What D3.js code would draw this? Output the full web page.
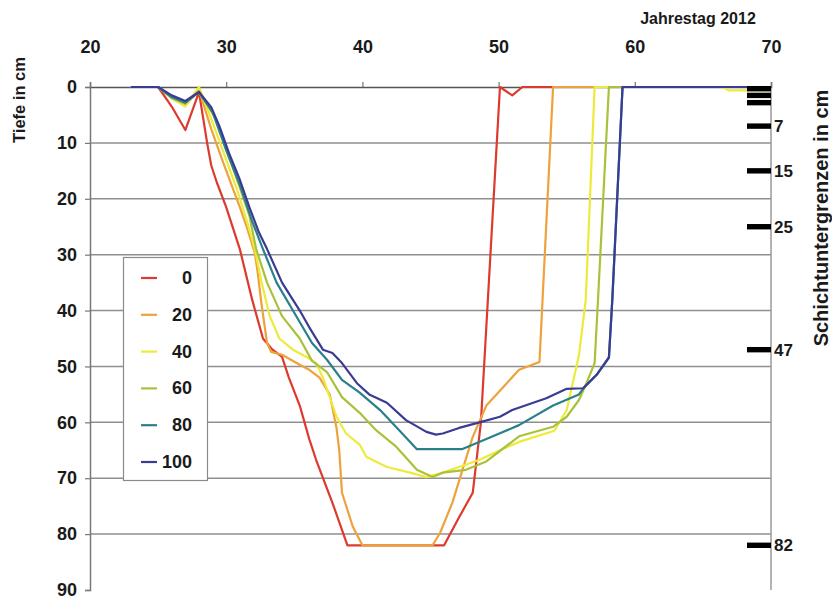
<!DOCTYPE html>
<html>
<head>
<meta charset="utf-8">
<script src="https://cdn.jsdelivr.net/npm/d3@7"></script>
<style>
  body { margin: 0; background: #fff; }
  svg { display: block; }
  text { font-family: "Liberation Sans", Arial, sans-serif; font-weight: bold; fill: #1a1a1a; }
</style>
</head>
<body>
<svg id="chart" width="832" height="598"></svg>
<script>
// Frost penetration depth (cm) per day of year 2012, one series per legend entry
const seriesNames = ["0", "20", "40", "60", "80", "100"];
const seriesColors = ["#dd3a2e", "#eea23c", "#eeea3a", "#a9c23a", "#2a8088", "#3b3b94"];

const depth0 = [[23,0],[25,0],[26,3.5],[27,7.7],[28,0.9],[28.6,10],[28.9,14],[29.3,17],[30,21.5],[31,29],[31.9,38],[32.7,45],[33.4,47],[34.1,48.3],[34.6,52],[35.4,57],[36.1,63],[36.6,66.7],[37.8,74.4],[38.9,82],[46,82],[47.1,77],[48.1,72.6],[48.7,60],[50.1,0],[51,1.5],[51.75,0],[70,0]];
const depth20 = [[23,0],[25,0],[26,2],[27,3.3],[28,0.5],[28.9,7.5],[29.7,13],[31,21.5],[31.5,25],[32.1,29.7],[32.3,33],[32.6,39],[33,45.8],[33.3,47.4],[34.1,47.9],[35.4,49.7],[36.1,50.6],[36.85,52],[37.6,55],[38.1,61],[38.3,65],[38.5,72.6],[39.3,78.7],[40,82],[45.15,82],[45.7,79.8],[46.6,74.4],[47.35,68.5],[48.1,62.6],[49.1,57],[50.6,53],[51.5,50.6],[53,49.2],[54,0],[70,0]];
const depth40 = [[23,0],[25,0],[26,2],[27,3.5],[28,0],[29.1,7],[30,13],[30.8,18.4],[31.5,23.8],[32.1,29],[32.6,35],[33.2,41],[33.9,45],[34.9,47],[35.9,48.3],[36.6,49.4],[37.1,52],[37.6,55.5],[38.1,59],[38.8,62],[39.8,64],[40.3,66.2],[41.8,68],[43.5,69],[44.7,69.8],[45.9,69],[47.1,68],[48.6,66.7],[50.1,65],[51.5,63.5],[54.1,61.5],[55,57.8],[55.35,54],[55.9,48],[56.4,38],[57.05,0],[66.4,0],[66.9,0.6],[70,0.6]];
const depth60 = [[23,0],[25,0],[26,2],[27,3],[28,0.7],[29.3,6],[30.2,12.5],[31,18],[31.7,23],[32.2,29],[33,35],[34.1,41],[35.4,45],[36.3,49],[37.4,51],[38.5,55.5],[39.8,58.3],[41,61.4],[42.5,64.4],[44,68.5],[45.15,69.8],[45.9,69],[47.6,68.5],[49.1,67],[51.5,62.5],[54,60.8],[55,59],[55.9,56],[56.45,53],[57.05,49.4],[57.3,38],[58.1,0],[70,0]];
const depth80 = [[23,0],[25,0],[26,1.8],[27,2.8],[28,0.9],[29,4.5],[29.95,11],[31,17.5],[31.9,24],[32.7,29],[33.7,35],[34.9,40],[36.3,45.8],[37.4,48.8],[38.5,52.4],[39.8,54.7],[41.3,57.8],[42.7,61.4],[44,64.8],[47.3,64.8],[49.1,63],[51.5,60.5],[54,57],[55.9,55],[56.2,54],[57.2,51.5],[58.1,48.4],[58.35,38],[59.1,0],[70,0]];
const depth100 = [[23,0],[25,0],[26,1.5],[27,2.5],[28,0.9],[28.9,3.6],[29.5,7],[30.2,11.8],[31,16.6],[31.7,21.5],[32.4,26],[33,29],[34.1,35],[35.4,40],[36.1,43],[37.1,47],[37.8,47.6],[38.5,49.4],[39.6,53],[40.5,55],[41.8,56.5],[43.2,59.6],[44.7,61.7],[45.4,62.2],[45.9,62],[47.1,61],[48.6,60],[50.1,59],[51,57.8],[53.5,55.7],[55,54],[56.2,53.9],[57.2,51.5],[58.1,48.4],[58.35,38],[59.1,0],[70,0]];
const seriesData = [depth0, depth20, depth40, depth60, depth80, depth100];

// Axis ticks
const dayTicks = [20, 30, 40, 50, 60, 70];
const depthTicks = [0, 10, 20, 30, 40, 50, 60, 70, 80, 90];

// Soil layer lower boundaries (cm): thin top layers unlabeled, deeper ones labeled
const thinLayers = [0.3, 1.5, 2.8];
const layerBounds = [7, 15, 25, 47, 82];

const svg = d3.select("#chart");
const plotLeft = 90, plotRight = 771, plotTop = 87, plotBottom = 590;

const x = d3.scaleLinear().domain([20, 70]).range([plotLeft, plotRight]);
const y = d3.scaleLinear().domain([0, 90]).range([plotTop, plotBottom]);

// horizontal grid
svg.append("g")
  .selectAll("line")
  .data(depthTicks.filter(d => d > 0 && d < 90))
  .join("line")
  .attr("x1", plotLeft).attr("x2", plotRight)
  .attr("y1", d => y(d)).attr("y2", d => y(d))
  .attr("stroke", "#8f8f8f").attr("stroke-width", 1.5);

// right frame line
svg.append("line")
  .attr("x1", plotRight).attr("x2", plotRight).attr("y1", plotTop).attr("y2", plotBottom)
  .attr("stroke", "#9a9a9a").attr("stroke-width", 1.5);

// top axis (day of year)
const xAxis = svg.append("g")
  .attr("transform", `translate(0,${plotTop})`)
  .call(d3.axisTop(x).tickValues(dayTicks).tickSize(5).tickPadding(29).tickFormat(d3.format("d")));
xAxis.select(".domain").attr("stroke", "#555").attr("stroke-width", 1.5);
xAxis.selectAll(".tick line").attr("stroke", "#777").attr("stroke-width", 1.2);
xAxis.selectAll("text").style("font-size", "18px").attr("fill", "#1a1a1a");

// left axis (depth)
const yAxis = svg.append("g")
  .attr("transform", `translate(${plotLeft},0)`)
  .call(d3.axisLeft(y).tickValues(depthTicks).tickSize(5).tickPadding(8).tickFormat(d3.format("d")));
yAxis.select(".domain").attr("stroke", "#777").attr("stroke-width", 1.5);
yAxis.selectAll(".tick line").attr("stroke", "#777").attr("stroke-width", 1.2);
yAxis.selectAll("text").style("font-size", "18px").attr("fill", "#1a1a1a");

// series lines, first entry at the bottom
const line = d3.line().x(d => x(d[0])).y(d => y(d[1]));
svg.append("g")
  .selectAll("path")
  .data(seriesData)
  .join("path")
  .attr("d", line)
  .attr("fill", "none")
  .attr("stroke", (d, i) => seriesColors[i])
  .attr("stroke-width", 2.2)
  .attr("stroke-linejoin", "round");

// layer boundary markers on the right
const barX0 = 747, barW = plotRight - barX0;
svg.append("g")
  .selectAll("rect")
  .data(thinLayers.concat(layerBounds))
  .join("rect")
  .attr("x", barX0).attr("width", barW)
  .attr("y", d => y(d) - 2.7).attr("height", 5.4)
  .attr("fill", "#000");
svg.append("g")
  .selectAll("text")
  .data(layerBounds)
  .join("text")
  .attr("x", plotRight + 3).attr("y", d => y(d) + 6)
  .style("font-size", "17px")
  .text(d => d);

// titles
svg.append("text")
  .attr("x", 698).attr("y", 24)
  .attr("text-anchor", "middle")
  .style("font-size", "16px")
  .text("Jahrestag 2012");
svg.append("text")
  .attr("transform", "translate(25,100) rotate(-90)")
  .attr("text-anchor", "middle")
  .style("font-size", "16.5px")
  .text("Tiefe in cm");
svg.append("text")
  .attr("transform", "translate(828,218) rotate(-90)")
  .attr("text-anchor", "middle")
  .style("font-size", "20px")
  .text("Schichtuntergrenzen in cm");

// legend
const lg = svg.append("g");
lg.append("rect")
  .attr("x", 123.5).attr("y", 257.5).attr("width", 84).attr("height", 223)
  .attr("fill", "#fff").attr("stroke", "#8a8a8a").attr("stroke-width", 1.2);
const entries = lg.selectAll("g.entry")
  .data(seriesNames)
  .join("g")
  .attr("class", "entry")
  .attr("transform", (d, i) => `translate(0,${278 + i * 36.8})`);
entries.append("line")
  .attr("x1", 141).attr("x2", 157)
  .attr("stroke", (d, i) => seriesColors[i]).attr("stroke-width", 2.2);
entries.append("text")
  .attr("x", 192).attr("y", 6)
  .attr("text-anchor", "end")
  .style("font-size", "18px")
  .text(d => d);
</script>
</body>
</html>
